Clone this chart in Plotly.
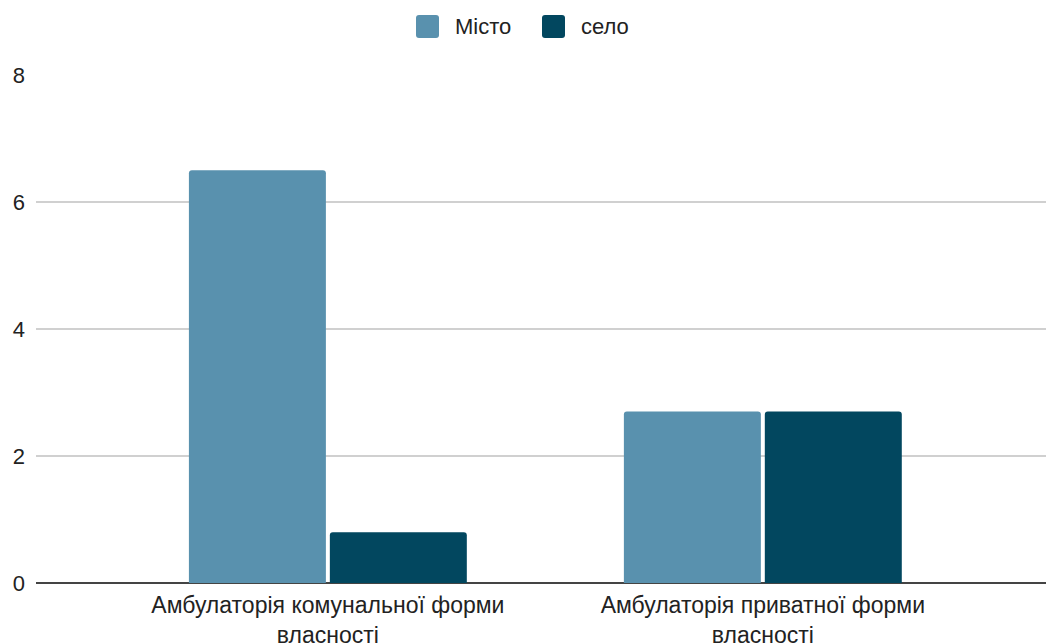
import plotly.graph_objects as go

# Data
categories = ["Амбулаторія комунальної форми<br>власності",
              "Амбулаторія приватної форми<br>власності"]
series_names = ["Місто", "село"]
misto_values = [6.5, 2.7]
selo_values = [0.8, 2.7]
y_ticks = [0, 2, 4, 6, 8]

colors = ["#5991ae", "#02475f"]
FONT = "Liberation Sans, Arial, sans-serif"
TEXT = "#222222"
FS = 22

W, H = 1046, 643
ML, MR, MT, MB = 36, 0, 75, 60

fig = go.Figure()
for name, vals, col in zip(series_names, [misto_values, selo_values], colors):
    fig.add_trace(go.Bar(
        x=categories, y=vals, name=name,
        marker=dict(color=col, cornerradius=3, line=dict(width=0)),
        showlegend=False,
    ))

# Legend row drawn above the plot: rounded swatch + label per series
swatch = 23
item_left = [380, 506]      # px from plot left edge
text_gap = 16
sw_bottom = MT - 38         # px above plot top
for left, name, col in zip(item_left, series_names, colors):
    r = 3
    x0, x1 = left, left + swatch
    y0, y1 = sw_bottom, sw_bottom + swatch
    path = (f"M{x0+r},{y0} L{x1-r},{y0} Q{x1},{y0} {x1},{y0+r} "
            f"L{x1},{y1-r} Q{x1},{y1} {x1-r},{y1} L{x0+r},{y1} "
            f"Q{x0},{y1} {x0},{y1-r} L{x0},{y0+r} Q{x0},{y0} {x0+r},{y0} Z")
    fig.add_shape(type="path", path=path, xref="paper", yref="paper",
                  xsizemode="pixel", ysizemode="pixel", xanchor=0, yanchor=1,
                  fillcolor=col, line=dict(width=0))
    fig.add_annotation(text=name, xref="paper", yref="paper", x=0, y=1,
                       xanchor="left", yanchor="middle",
                       xshift=x1 + text_gap - 2, yshift=sw_bottom + swatch / 2,
                       showarrow=False, font=dict(family=FONT, size=FS, color=TEXT))

fig.update_layout(
    width=W, height=H,
    margin=dict(l=ML, r=MR, t=MT, b=MB, autoexpand=False),
    paper_bgcolor="white", plot_bgcolor="white",
    barmode="group", bargap=0.352, bargroupgap=0.028,
    font=dict(family=FONT, size=FS, color=TEXT),
)
fig.update_xaxes(
    type="category", range=[-0.671, 1.651], automargin=False,
    showgrid=False, showline=False, ticks="", ticklabelstandoff=6,
    tickfont=dict(family=FONT, size=23, color=TEXT),
)
fig.update_yaxes(
    range=[0, 8], tickvals=y_ticks, ticktext=[str(v) for v in y_ticks],
    automargin=False,
    showgrid=True, gridcolor="#d0d0d0", gridwidth=2,
    zeroline=True, zerolinecolor="#444444", zerolinewidth=2,
    showline=False, ticks="", ticklabelstandoff=10,
    tickfont=dict(family=FONT, size=FS, color=TEXT),
)

fig.write_html("out.html")
